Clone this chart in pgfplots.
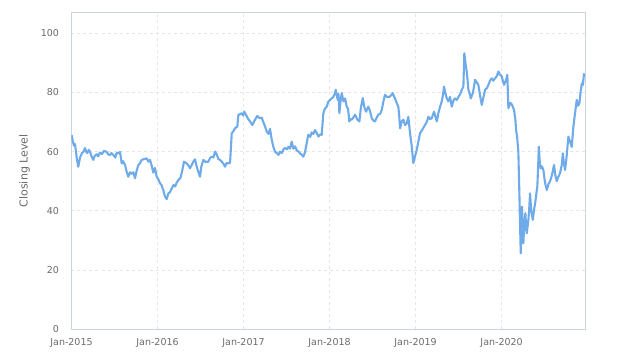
\documentclass[border=0pt]{standalone}
\usepackage{fontspec}
\setmainfont{DejaVu Sans}
\usepackage{pgfplots}
\pgfplotsset{compat=1.18}
\definecolor{linec}{HTML}{6EABE8}
\definecolor{gridc}{HTML}{E3E6EC}
\definecolor{framec}{HTML}{CCD3DE}
\definecolor{labc}{HTML}{6B6B6B}
\pgfplotstableread{
t v
2015.002 65.6
2015.015 63.5
2015.029 62.0
2015.040 62.6
2015.052 60.0
2015.065 57.0
2015.079 54.9
2015.099 58.0
2015.122 59.5
2015.140 60.0
2015.157 61.2
2015.170 60.0
2015.184 59.5
2015.200 60.6
2015.215 60.0
2015.235 58.3
2015.253 57.2
2015.270 58.6
2015.293 59.1
2015.310 58.4
2015.331 59.7
2015.355 59.2
2015.378 60.3
2015.409 59.9
2015.430 59.0
2015.448 58.9
2015.465 59.5
2015.486 58.9
2015.510 58.0
2015.525 59.6
2015.544 59.4
2015.564 59.9
2015.584 56.0
2015.600 56.8
2015.622 55.5
2015.642 53.2
2015.660 51.5
2015.680 53.0
2015.700 52.5
2015.720 53.0
2015.738 51.0
2015.760 53.8
2015.777 55.5
2015.795 56.0
2015.816 57.2
2015.845 57.5
2015.874 57.7
2015.895 56.6
2015.913 57.2
2015.930 55.5
2015.951 52.9
2015.970 54.5
2015.991 51.5
2016.010 50.6
2016.029 49.3
2016.045 48.8
2016.067 47.0
2016.085 45.0
2016.107 43.9
2016.125 45.8
2016.145 46.3
2016.165 47.5
2016.184 48.7
2016.205 48.2
2016.223 49.5
2016.245 50.5
2016.265 51.0
2016.281 52.7
2016.308 56.6
2016.340 56.0
2016.360 55.3
2016.378 54.4
2016.398 55.5
2016.420 56.8
2016.436 57.4
2016.455 55.0
2016.474 53.2
2016.494 51.5
2016.510 55.0
2016.533 57.2
2016.560 56.5
2016.591 56.6
2016.610 57.8
2016.630 58.3
2016.650 58.0
2016.669 60.0
2016.690 59.0
2016.707 57.5
2016.727 57.2
2016.747 56.6
2016.765 56.0
2016.785 54.9
2016.805 56.2
2016.823 56.0
2016.843 56.2
2016.855 62.0
2016.863 66.2
2016.880 66.8
2016.901 67.9
2016.928 68.5
2016.940 72.4
2016.960 72.7
2016.979 73.0
2016.995 72.2
2017.009 73.5
2017.037 72.0
2017.055 71.0
2017.076 70.2
2017.102 69.0
2017.120 70.0
2017.134 70.8
2017.160 72.1
2017.185 71.3
2017.212 71.5
2017.230 70.0
2017.250 68.5
2017.270 66.8
2017.290 66.0
2017.308 67.7
2017.328 64.0
2017.348 61.5
2017.366 60.0
2017.385 59.5
2017.405 58.9
2017.425 60.0
2017.444 59.5
2017.465 60.8
2017.483 61.2
2017.505 60.8
2017.521 61.6
2017.540 61.0
2017.560 63.4
2017.579 61.0
2017.600 61.8
2017.619 60.4
2017.640 60.0
2017.657 59.4
2017.675 59.0
2017.695 58.3
2017.715 59.8
2017.735 63.0
2017.753 65.7
2017.775 65.0
2017.793 66.5
2017.812 66.0
2017.831 67.3
2017.850 66.4
2017.870 65.1
2017.890 65.8
2017.909 65.7
2017.928 73.0
2017.945 74.5
2017.967 75.2
2017.985 76.8
2018.006 77.5
2018.025 78.0
2018.044 78.5
2018.060 79.5
2018.072 80.9
2018.085 79.0
2018.095 77.5
2018.105 79.5
2018.114 73.0
2018.130 77.5
2018.142 79.8
2018.161 77.0
2018.180 78.0
2018.200 75.2
2018.215 74.5
2018.230 70.2
2018.245 71.0
2018.258 70.8
2018.275 71.5
2018.297 72.5
2018.320 71.0
2018.347 70.2
2018.365 75.0
2018.386 78.1
2018.405 75.0
2018.424 73.5
2018.451 75.2
2018.470 73.8
2018.491 71.3
2018.510 70.5
2018.529 70.2
2018.548 71.5
2018.567 72.5
2018.590 72.8
2018.607 74.1
2018.625 76.8
2018.645 79.2
2018.670 78.5
2018.695 78.5
2018.715 79.0
2018.735 79.8
2018.750 78.6
2018.762 78.0
2018.780 76.5
2018.800 75.2
2018.810 72.0
2018.820 67.9
2018.840 70.2
2018.858 70.8
2018.878 69.0
2018.898 69.6
2018.916 71.8
2018.936 66.2
2018.955 62.0
2018.974 56.1
2018.990 58.0
2019.014 60.6
2019.030 63.0
2019.052 66.2
2019.080 67.5
2019.110 69.0
2019.130 70.0
2019.149 71.8
2019.170 71.0
2019.188 71.3
2019.215 73.5
2019.230 72.0
2019.247 70.2
2019.265 73.0
2019.285 75.2
2019.305 77.0
2019.320 79.5
2019.331 82.0
2019.345 80.0
2019.363 78.0
2019.380 77.0
2019.401 78.5
2019.421 75.2
2019.440 77.3
2019.459 78.0
2019.480 77.5
2019.498 78.5
2019.520 79.5
2019.537 80.9
2019.556 82.0
2019.567 93.3
2019.580 90.0
2019.595 87.1
2019.605 84.0
2019.614 81.0
2019.630 79.5
2019.642 78.0
2019.665 79.8
2019.680 82.0
2019.692 84.3
2019.710 83.5
2019.730 82.6
2019.750 79.0
2019.770 75.8
2019.790 78.5
2019.808 80.9
2019.830 81.5
2019.847 82.6
2019.865 84.0
2019.886 84.8
2019.905 84.0
2019.924 84.8
2019.945 85.5
2019.963 87.1
2019.982 86.0
2020.002 85.5
2020.015 84.0
2020.029 82.6
2020.050 84.0
2020.067 86.0
2020.079 74.7
2020.100 76.5
2020.119 76.0
2020.145 74.1
2020.160 71.0
2020.169 67.3
2020.182 64.5
2020.195 60.0
2020.207 45.9
2020.215 35.0
2020.223 25.6
2020.230 34.0
2020.238 41.4
2020.245 33.0
2020.253 29.0
2020.265 36.0
2020.277 39.2
2020.285 34.5
2020.293 32.4
2020.312 37.0
2020.320 40.0
2020.331 45.9
2020.345 40.0
2020.363 36.9
2020.378 40.5
2020.390 42.5
2020.405 46.0
2020.416 48.2
2020.425 55.0
2020.433 61.7
2020.445 56.0
2020.456 54.3
2020.470 55.0
2020.486 53.8
2020.505 49.5
2020.526 47.0
2020.545 49.0
2020.564 50.0
2020.585 52.0
2020.610 55.5
2020.625 52.0
2020.642 50.0
2020.660 51.5
2020.680 52.7
2020.700 55.5
2020.712 59.4
2020.725 56.0
2020.738 53.8
2020.755 58.0
2020.777 65.1
2020.795 63.5
2020.816 61.6
2020.835 68.5
2020.850 72.0
2020.874 77.5
2020.890 75.5
2020.905 76.4
2020.920 80.5
2020.933 83.1
2020.945 82.5
2020.959 86.5
}\datatable
\begin{document}
\begin{tikzpicture}
\path (-71.5pt,-34pt) rectangle (552.5pt,329pt);
\begin{axis}[
  scale only axis,
  width=513.5pt, height=316.3pt,
  at={(0pt,0pt)}, anchor=south west,
  xmin=2015, xmax=2020.97,
  ymin=0, ymax=107,
  xtick={2015,2016,2017,2018,2019,2020},
  xticklabels={Jan-2015,Jan-2016,Jan-2017,Jan-2018,Jan-2019,Jan-2020},
  ytick={0,20,40,60,80,100},
  grid=major,
  major grid style={gridc, dashed, line width=0.6pt},
  axis line style={framec, line width=0.8pt},
  tick style={draw=none},
  ticklabel style={font=\fontsize{9.5}{10}\selectfont, text=labc},
  /pgf/number format/assume math mode=true,
  ylabel={Closing Level},
  ylabel style={font=\fontsize{11}{12}\selectfont, text=labc},
  ylabel shift=4pt,
  xticklabel style={yshift=-6pt},
  yticklabel style={xshift=-9pt},
]
\addplot[linec, line width=2.1pt, line join=round, no markers] table[x=t,y=v] {\datatable};
\end{axis}
\end{tikzpicture}
\end{document}
